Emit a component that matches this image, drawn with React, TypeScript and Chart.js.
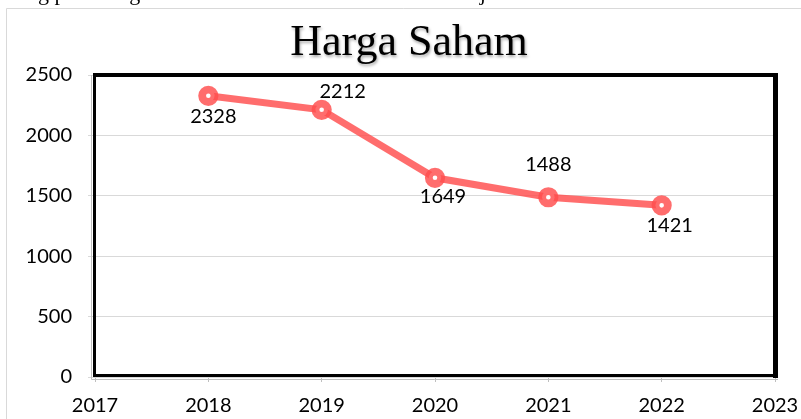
import React, { useEffect, useRef } from "react";
import { Chart, registerables } from "chart.js";

Chart.register(...registerables);

const years = [2018, 2019, 2020, 2021, 2022];
const prices = [2328, 2212, 1649, 1488, 1421];
const xMin = 2017;
const xMax = 2023;
const yMin = 0;
const yMax = 2500;
const yStep = 500;
const chartTitle = "Harga Saham";
const pageTextFragment = "ng pada harga saham selama lima tahun terakhir terjadi";
// label centre offsets relative to each point (px)
const labelOffsets: [number, number][] = [
  [5, 20.5],
  [21, -18.5],
  [8, 19],
  [0, -33],
  [8, 20],
];

const TICK_FONT = "Lato, 'Open Sans', sans-serif";

const decorPlugin = {
  id: "decor",
  beforeDraw(chart: any) {
    const ctx = chart.ctx;
    ctx.save();
    ctx.fillStyle = "#ffffff";
    ctx.fillRect(0, 0, chart.width, chart.height);
    // clipped document text line at very top
    ctx.fillStyle = "#000";
    ctx.font = "22px 'Liberation Serif', serif";
    ctx.textBaseline = "alphabetic";
    ctx.textAlign = "left";
    ctx.fillText(pageTextFragment, 27, 0);
    // outer chart frame
    ctx.strokeStyle = "#d9d9d9";
    ctx.lineWidth = 1;
    ctx.beginPath();
    ctx.moveTo(6.5, chart.height);
    ctx.lineTo(6.5, 8.5);
    ctx.lineTo(chart.width, 8.5);
    ctx.stroke();
    // title with shadow
    ctx.shadowColor = "rgba(0,0,0,0.35)";
    ctx.shadowBlur = 3;
    ctx.shadowOffsetX = 1;
    ctx.shadowOffsetY = 2;
    ctx.fillStyle = "#000";
    ctx.font = "44px 'Liberation Serif', serif";
    ctx.textAlign = "center";
    ctx.fillText(chartTitle, 409, 55);
    ctx.restore();
  },
  afterDraw(chart: any) {
    const ctx = chart.ctx;
    const { left, right, top, bottom } = chart.chartArea;
    ctx.save();
    // thin grey outer axis lines
    ctx.strokeStyle = "#bfbfbf";
    ctx.lineWidth = 1;
    ctx.beginPath();
    ctx.moveTo(left - 3.5, top);
    ctx.lineTo(left - 3.5, bottom + 2.5);
    ctx.lineTo(right + 3, bottom + 2.5);
    ctx.stroke();
    // black frame
    ctx.fillStyle = "#000";
    ctx.fillRect(left - 2, top - 2, right - left + 5, 4); // top
    ctx.fillRect(right - 2, top - 2, 5, bottom - top + 3); // right
    ctx.fillRect(left - 2, top - 2, 3, bottom - top + 2); // left
    ctx.fillRect(left - 2, bottom - 3, right - left + 3, 3); // bottom
    ctx.restore();
  },
  afterDatasetsDraw(chart: any) {
    const ctx = chart.ctx;
    const meta = chart.getDatasetMeta(0);
    ctx.save();
    ctx.fillStyle = "#000";
    ctx.font = `20px ${TICK_FONT}`;
    ctx.textAlign = "center";
    ctx.textBaseline = "middle";
    meta.data.forEach((pt: any, i: number) => {
      const [dx, dy] = labelOffsets[i] || [0, 20];
      ctx.fillText(String(prices[i]), pt.x + dx, pt.y + dy);
    });
    ctx.restore();
  },
};

export default function App() {
  const canvasRef = useRef<HTMLCanvasElement | null>(null);

  useEffect(() => {
    const canvas = canvasRef.current;
    if (!canvas) return;
    const chart = new Chart(canvas, {
      type: "scatter",
      data: {
        datasets: [
          {
            label: chartTitle,
            data: years.map((y, i) => ({ x: y, y: prices[i] })),
            showLine: true,
            borderColor: "rgba(255, 77, 77, 0.82)",
            borderWidth: 7,
            pointRadius: 6.2,
            pointHoverRadius: 6.2,
            pointBorderWidth: 7.8,
            pointBorderColor: "rgba(255, 77, 77, 0.82)",
            pointBackgroundColor: "#ffffff",
            tension: 0,
          },
        ],
      },
      options: {
        responsive: false,
        animation: false,
        devicePixelRatio: 1,
        layout: { padding: { left: 0, top: 75, right: 26, bottom: 0 } },
        plugins: {
          legend: { display: false },
          title: { display: false },
          tooltip: { enabled: false },
        },
        scales: {
          x: {
            type: "linear",
            min: xMin,
            max: xMax,
            afterFit: (s: any) => {
              s.height = 42;
              s.paddingLeft = 0;
              s.paddingRight = 0;
            },
            ticks: {
              stepSize: 1,
              color: "#000",
              padding: 12,
              font: { family: TICK_FONT, size: 20 },
              callback: (v: any) => String(v),
            },
            grid: {
              drawOnChartArea: false,
              drawTicks: true,
              tickLength: 5,
              color: "#bfbfbf",
            },
            border: { display: false },
          },
          y: {
            min: yMin,
            max: yMax,
            afterFit: (s: any) => {
              s.width = 95;
              s.paddingTop = 0;
              s.paddingBottom = 0;
            },
            ticks: {
              stepSize: yStep,
              color: "#000",
              padding: 16,
              font: { family: TICK_FONT, size: 20 },
              callback: (v: any) => String(v),
            },
            grid: {
              color: "#d9d9d9",
              drawTicks: true,
              tickLength: 7,
            },
            border: { display: false },
          },
        },
      },
      plugins: [decorPlugin],
    });
    return () => chart.destroy();
  }, []);

  return (
    <div style={{ position: "absolute", left: 0, top: 0, width: 801, height: 419 }}>
      <canvas ref={canvasRef} width={801} height={419} style={{ display: "block" }} />
    </div>
  );
}
